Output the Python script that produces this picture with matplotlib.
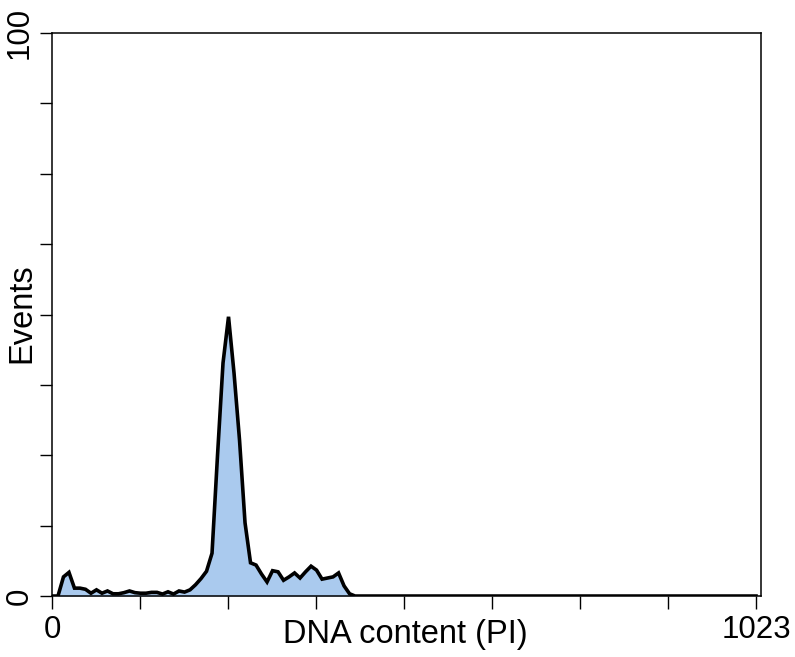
import matplotlib
matplotlib.use("Agg")
import matplotlib.pyplot as plt
import numpy as np

plt.rcParams['font.family'] = ['Liberation Sans', 'DejaVu Sans']

# Histogram: 128 bins of 8 channels each (channel 0..1023)
bin_width = 8
counts_start = [0, 0, 3.4, 4.2, 1.4, 1.4, 1.2, 0.5, 1.1, 0.5,
                0.9, 0.4, 0.4, 0.6, 0.9, 0.6, 0.5, 0.5, 0.65, 0.65,
                0.35, 0.75, 0.35, 0.9, 0.7, 1.1, 2.0, 3.1, 4.4, 7.6,
                25.0, 41.4, 49.6, 39.6, 27.7, 13.0, 5.9, 5.5, 3.9, 2.5,
                4.5, 4.3, 2.8, 3.4, 4.1, 3.2, 4.3, 5.3, 4.6, 3.0,
                3.2, 3.4, 4.1, 1.8, 0.4, 0]
counts_rest = [0] * 72
counts = counts_start + counts_rest
channels = [i * bin_width for i in range(len(counts))] + [1023]
counts = counts + [0]

xticks = [0, 127.875, 255.75, 383.625, 511.5, 639.375, 767.25, 895.125, 1023]
xticklabels = ["0", "", "", "", "", "", "", "", "1023"]
yticks = [0, 12.5, 25, 37.5, 50, 62.5, 75, 87.5, 100]
yticklabels = ["0", "", "", "", "", "", "", "", "100"]

fig = plt.figure(figsize=(7.95, 6.57), dpi=100)
ax = fig.add_axes([0.066, 0.0928, 0.891, 0.857])

ax.fill_between(channels, counts, 0, color="#aacaee", linewidth=0)
ax.plot(channels, counts, color="black", linewidth=2.6, solid_joinstyle="miter")

ax.set_xlim(0, 1030)
ax.set_ylim(0, 100)
ax.set_xticks(xticks)
ax.set_xticklabels(xticklabels, fontsize=22.5)
ax.set_yticks(yticks)
ax.set_yticklabels(yticklabels, fontsize=22.5, rotation=90, va="center")
ax.tick_params(axis="both", length=9, width=1, color="black", pad=4)
ax.tick_params(axis="x", pad=5)
for s in ax.spines.values():
    s.set_linewidth(1.1)

fig.text(405 / 795, 1 - 634 / 657, "DNA content (PI)", fontsize=23.5, ha="center", va="center")
fig.text(22 / 795, 1 - 313 / 657, "Events", fontsize=23.5, ha="center", va="center", rotation=90)

fig.savefig("out.png", dpi=100)
